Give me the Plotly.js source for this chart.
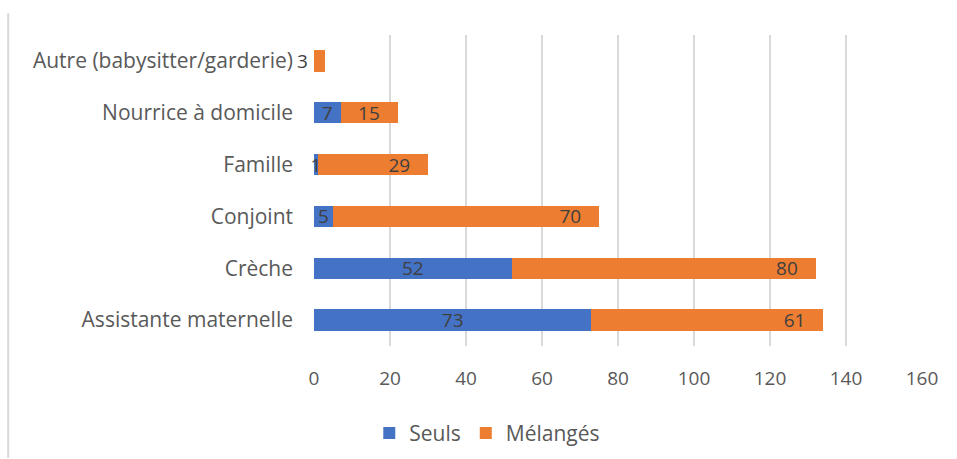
<!DOCTYPE html>
<html>
<head>
<meta charset="utf-8">
<script src="https://cdn.plot.ly/plotly-3.0.1.min.js"></script>
<style>html,body{margin:0;padding:0;background:#fff;}#chart{width:957px;height:459px;}</style>
</head>
<body>
<div id="chart"></div>
<script>
var categories = ["Assistante maternelle", "Crèche", "Conjoint", "Famille", "Nourrice à domicile", "Autre (babysitter/garderie)"];
var seuls = [73, 52, 5, 1, 7, 0];
var melanges = [61, 80, 70, 29, 15, 3];
var xTicks = [0, 20, 40, 60, 80, 100, 120, 140, 160];

var font = "'Open Sans', 'Noto Sans', sans-serif";
var pad = "\u00a0\u00a0\u00a0";

var seulsText = seuls.map(function(v){ return v > 0 ? String(v) : ""; });
var melText = melanges.map(function(v, i){ return (seuls[i] === 0 && v < 5) ? "" : String(v) + pad; });

var traces = [
  {
    type: "bar", orientation: "h", name: "Seuls",
    y: categories, x: seuls,
    marker: {color: "#4472C4"},
    text: seulsText, textposition: "inside", insidetextanchor: "middle",
    textangle: 0, constraintext: "none", cliponaxis: false,
    textfont: {family: font, size: 19, color: "#404040"},
    hoverinfo: "x+y"
  },
  {
    type: "bar", orientation: "h", name: "Mélangés",
    y: categories, x: melanges,
    marker: {color: "#ED7D31"},
    text: melText, textposition: "inside", insidetextanchor: "end",
    textangle: 0, constraintext: "none", cliponaxis: false,
    textfont: {family: font, size: 19, color: "#404040"},
    hoverinfo: "x+y"
  }
];

// label for tiny bar drawn just left of the axis
var annotations = [];
categories.forEach(function(c, i){
  if (seuls[i] === 0 && melanges[i] < 5) {
    annotations.push({
      x: 0, y: c, xref: "x", yref: "y", text: String(melanges[i]),
      showarrow: false, xanchor: "right", xshift: -4,
      font: {family: font, size: 19, color: "#404040"}
    });
  }
});

var layout = {
  width: 957, height: 459,
  margin: {l: 314, r: 35, t: 35, b: 113, autoexpand: false},
  paper_bgcolor: "#ffffff", plot_bgcolor: "#ffffff",
  barmode: "stack", bargap: 0.59,
  showlegend: true,
  legend: {orientation: "h", x: 0.285, xanchor: "center", y: -0.215, yanchor: "top",
           font: {family: font, size: 21, color: "#595959"}, traceorder: "normal",
           itemwidth: 30},
  xaxis: {
    range: [0, 160], tickvals: xTicks, ticktext: xTicks.map(String),
    showgrid: true, gridcolor: "#d9d9d9", gridwidth: 1.5,
    zeroline: false, showline: false, ticks: "",
    tickfont: {family: font, size: 19, color: "#595959"},
    ticklabelstandoff: 19, fixedrange: true
  },
  yaxis: {
    type: "category", categoryorder: "array", categoryarray: categories,
    showgrid: false, zeroline: false, showline: false, ticks: "",
    tickfont: {family: font, size: 21, color: "#595959"},
    ticklabelstandoff: 20, automargin: false, fixedrange: true
  },
  font: {family: font},
  annotations: annotations,
  shapes: [{
    type: "line", xref: "paper", yref: "paper",
    x0: -0.503, x1: -0.503, y0: 1.07, y1: -0.36,
    line: {color: "#d9d9d9", width: 2}
  }]
};

Plotly.newPlot("chart", traces, layout, {displayModeBar: false, staticPlot: true});
</script>
</body>
</html>
